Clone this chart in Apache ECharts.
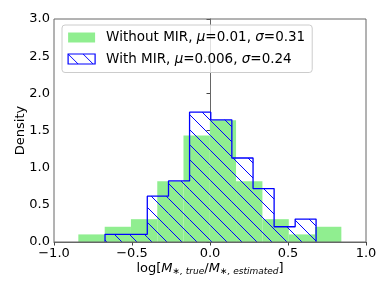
<!DOCTYPE html>
<html>
<head>
<meta charset="utf-8">
<script src="https://cdn.jsdelivr.net/npm/echarts@6/dist/echarts.min.js"></script>
<style>html,body{margin:0;padding:0;background:#fff}#c{width:390px;height:293px}</style>
</head>
<body>
<div id="c"></div>
<script>
// Histogram without MIR: bin edges and densities
var edgesNo = [-0.844, -0.675, -0.507, -0.338, -0.170, -0.001, 0.167, 0.336, 0.505, 0.673, 0.842];
var densNo = [0.102, 0.205, 0.307, 0.818, 1.432, 1.637, 0.818, 0.307, 0.102, 0.205];
// Histogram with MIR
var edgesWith = [-0.673, -0.537, -0.402, -0.266, -0.131, 0.005, 0.140, 0.276, 0.411, 0.546, 0.680];
var densWith = [0.103, 0.103, 0.616, 0.822, 1.746, 1.643, 1.130, 0.719, 0.205, 0.308];
var xTicks = [-1.0, -0.5, 0.0, 0.5, 1.0];
var yTicks = [0.0, 0.5, 1.0, 1.5, 2.0, 2.5, 3.0];
var nameNo = 'Without MIR, μ=0.01, σ=0.31';
var nameWith = 'With MIR, μ=0.006, σ=0.24';

var FONT = 'DejaVu Sans';
// hatch pattern "\\"
var pc = document.createElement('canvas');
pc.width = 15; pc.height = 15;
var g = pc.getContext('2d');
g.strokeStyle = '#0000ff'; g.lineWidth = 1;
g.beginPath();
g.moveTo(-2, -2); g.lineTo(17, 17);
g.moveTo(-2, 13); g.lineTo(2, 17);
g.moveTo(13, -2); g.lineTo(17, 2);
g.stroke();
var hatch = {image: pc, repeat: 'repeat'};

var noData = densNo.map(function (d, i) { return [edgesNo[i], edgesNo[i + 1], d]; });
var withData = densWith.map(function (d, i) { return [edgesWith[i], edgesWith[i + 1], d]; });
var outline = [[edgesWith[0], 0]];
densWith.forEach(function (d, i) { outline.push([edgesWith[i], d]); outline.push([edgesWith[i + 1], d]); });
outline.push([edgesWith[edgesWith.length - 1], 0]);

function rectItem(fill) {
  return function (params, api) {
    var p0 = api.coord([api.value(0), api.value(2)]);
    var p1 = api.coord([api.value(1), 0]);
    return {type: 'rect', shape: {x: p0[0], y: p0[1], width: p1[0] - p0[0], height: p1[1] - p0[1]},
      style: fill};
  };
}

function fmt(name) {
  return name.replace(/μ/g, '{g|μ}').replace(/σ/g, '{g|σ}');
}

var chart = echarts.init(document.getElementById('c'), null, {renderer: 'canvas'});
chart.setOption({
  animation: false,
  backgroundColor: '#ffffff',
  textStyle: {fontFamily: FONT},
  grid: {left: 54, right: 24, top: 19, bottom: 51, containLabel: false},
  legend: {
    orient: 'vertical', left: 62, top: 25,
    padding: [5, 7, 6, 5.5], itemGap: 6.5, itemWidth: 27, itemHeight: 10,
    backgroundColor: 'rgba(255,255,255,0.8)', borderColor: '#cccccc', borderWidth: 1, borderRadius: 3,
    selectedMode: false,
    textStyle: {fontFamily: FONT, fontSize: 13.5, color: '#000', lineHeight: 15, padding: [0, 0, 0, 6],
      rich: {g: {fontFamily: FONT, fontSize: 13.5, fontStyle: 'italic', color: '#000', lineHeight: 15}}},
    formatter: fmt,
    data: [
      {name: nameNo, icon: 'rect', itemStyle: {color: '#90ee90', borderWidth: 0}},
      {name: nameWith, icon: 'rect', itemStyle: {color: hatch, borderColor: '#0000ff', borderWidth: 1.2}}
    ]
  },
  xAxis: {
    type: 'value', min: -1, max: 1, interval: 0.5,
    name: '{n|log[}{i|M}{s|∗, true}{n|/}{i|M}{s|∗, estimated}{n|]}',
    nameLocation: 'middle', nameGap: 19, nameMoveOverlap: false,
    nameTextStyle: {rich: {
      n: {fontFamily: FONT, fontSize: 13, color: '#000', lineHeight: 16},
      i: {fontFamily: FONT, fontSize: 13, fontStyle: 'italic', color: '#000', lineHeight: 16},
      s: {fontFamily: FONT, fontSize: 9, fontStyle: 'italic', color: '#000', lineHeight: 16, padding: [5, 0, 0, 0]}
    }},
    axisLine: {show: true, onZero: false, lineStyle: {color: '#666', width: 1}},
    axisTick: {show: true, inside: false, length: 3.5, lineStyle: {color: '#444'}},
    axisLabel: {fontFamily: FONT, fontSize: 13, color: '#000', margin: 5,
      formatter: function (v) { return (v < 0 ? '\u2212' : '') + Math.abs(v).toFixed(1); }},
    splitLine: {show: false}
  },
  yAxis: {
    type: 'value', min: 0, max: 3, interval: 0.5,
    name: 'Density', nameLocation: 'middle', nameGap: 27, nameMoveOverlap: false,
    nameTextStyle: {fontFamily: FONT, fontSize: 13, color: '#000'},
    axisLine: {show: true, lineStyle: {color: '#666', width: 1}},
    axisTick: {show: true, inside: false, length: 3.5, lineStyle: {color: '#444'}},
    axisLabel: {fontFamily: FONT, fontSize: 13, color: '#000', margin: 4,
      formatter: function (v) { return v.toFixed(1); }},
    splitLine: {show: false}
  },
  graphic: [{type: 'rect', shape: {x: 54, y: 19, width: 312, height: 223}, z: 100, silent: true,
    style: {fill: null, stroke: '#666', lineWidth: 1}}],
  series: [
    {name: nameNo, type: 'custom', renderItem: rectItem({fill: '#90ee90'}), data: noData,
      itemStyle: {color: '#90ee90'}, encode: {x: [0, 1], y: 2}, z: 1},
    {name: nameWith, type: 'custom', renderItem: rectItem({fill: hatch}), data: withData,
      itemStyle: {color: '#0000ff'}, encode: {x: [0, 1], y: 2}, z: 2},
    {name: nameWith, type: 'line', data: outline, symbol: 'none', lineStyle: {color: '#0000ff', width: 1.3},
      z: 3, silent: true}
  ]
});
</script>
</body>
</html>
